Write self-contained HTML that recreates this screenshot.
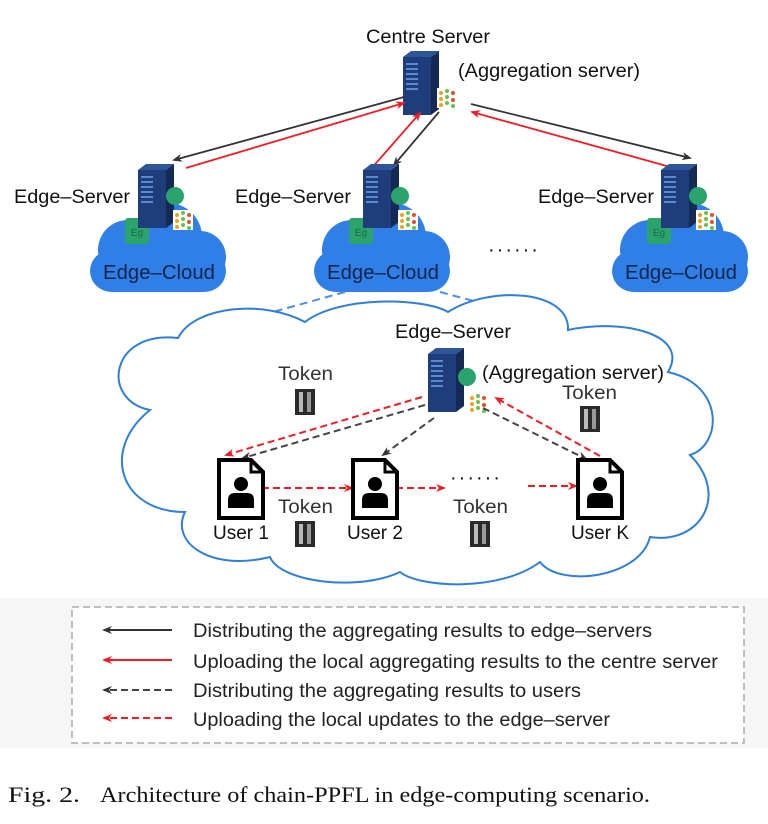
<!DOCTYPE html>
<html><head><meta charset="utf-8"><style>
html,body{margin:0;padding:0;background:#fff;}
svg{display:block;}
text{font-family:"Liberation Sans",sans-serif;}
</style></head><body>
<svg width="768" height="824" viewBox="0 0 768 824" xmlns="http://www.w3.org/2000/svg">
<defs>
<marker id="ak" markerWidth="10" markerHeight="10" refX="8" refY="5" orient="auto" markerUnits="userSpaceOnUse"><path d="M0,1 L10,5 L0,9 L3,5 Z" fill="#333"/></marker>
<marker id="ar" markerWidth="10" markerHeight="10" refX="8" refY="5" orient="auto" markerUnits="userSpaceOnUse"><path d="M0,1 L10,5 L0,9 L3,5 Z" fill="#f01c24"/></marker>
<g id="srv">
<rect x="0" y="0" width="28" height="58" fill="#1f3d7a"/>
<polygon points="0,0 8,-6 36,-6 28,0" fill="#2e5598"/>
<polygon points="28,0 36,-6 36,52 28,58" fill="#142a55"/>
<rect x="3" y="6" width="12" height="2" fill="#5a8ad0"/><rect x="3" y="11" width="12" height="2" fill="#5a8ad0"/><rect x="3" y="16" width="12" height="2" fill="#5a8ad0"/><rect x="3" y="21" width="12" height="2" fill="#5a8ad0"/><rect x="3" y="26" width="12" height="2" fill="#5a8ad0"/><rect x="3" y="31" width="12" height="2" fill="#5a8ad0"/>
</g>
<g id="net">
<rect x="0" y="0" width="20" height="20" fill="#fff"/>
<circle cx="4" cy="5" r="2" fill="#f0a020"/><circle cx="4" cy="11" r="2" fill="#f0a020"/><circle cx="4" cy="17" r="2" fill="#f0a020"/>
<circle cx="10" cy="3" r="2" fill="#6cc04a"/><circle cx="10" cy="9" r="2" fill="#6cc04a"/><circle cx="10" cy="15" r="2" fill="#6cc04a"/>
<circle cx="16" cy="5" r="2" fill="#e05030"/><circle cx="16" cy="12" r="2" fill="#e05030"/><circle cx="16" cy="18" r="2" fill="#6cc04a"/>
</g>
<g id="tok">
<rect x="0" y="0" width="20" height="26" fill="#2a2a2a"/>
<rect x="4" y="3" width="4" height="20" fill="#bbb"/><rect x="12" y="3" width="4" height="20" fill="#999"/>
</g>
<g id="user">
<path d="M0,0 H32 L44,12 V58 H0 Z" fill="#fff" stroke="#000" stroke-width="4"/>
<path d="M32,0 V12 H44" fill="none" stroke="#000" stroke-width="3"/>
<circle cx="22" cy="24" r="7" fill="#000"/>
<path d="M9,48 V40 Q9,33 16,33 H28 Q35,33 35,40 V48 Z" fill="#000"/>
</g>
<g id="bcloud">
<rect x="0" y="45" width="136" height="42" rx="22" fill="#2f7fe6"/>
<circle cx="38" cy="45" r="30" fill="#2f7fe6"/>
<circle cx="78" cy="32" r="34" fill="#2f7fe6"/>
<circle cx="110" cy="52" r="26" fill="#2f7fe6"/>
<rect x="35" y="13" width="24" height="26" rx="3" fill="#2aa36c"/>
<text x="47" y="31" font-size="10" fill="#1a6a44" text-anchor="middle">Eg</text>
<text x="13" y="74" font-size="20" fill="#12244a" textLength="112" lengthAdjust="spacingAndGlyphs">Edge–Cloud</text>
</g>
</defs>

<text x="366" y="43" font-size="19" fill="#111" textLength="124" lengthAdjust="spacingAndGlyphs">Centre Server</text>
<text x="458" y="77" font-size="19" fill="#111" textLength="182" lengthAdjust="spacingAndGlyphs">(Aggregation server)</text>
<use href="#srv" x="403" y="57"/>
<use href="#net" x="437" y="88"/>

<line x1="404" y1="97" x2="174" y2="160" stroke="#333" stroke-width="1.8" marker-end="url(#ak)"/>
<line x1="186" y1="168" x2="404" y2="103" stroke="#f01c24" stroke-width="1.8" marker-end="url(#ar)"/>
<line x1="370" y1="170" x2="420" y2="113" stroke="#f01c24" stroke-width="1.8" marker-end="url(#ar)"/>
<line x1="439" y1="112" x2="394" y2="165" stroke="#333" stroke-width="1.8" marker-end="url(#ak)"/>
<line x1="471" y1="104" x2="690" y2="158" stroke="#333" stroke-width="1.8" marker-end="url(#ak)"/>
<line x1="674" y1="168" x2="472" y2="112" stroke="#f01c24" stroke-width="1.8" marker-end="url(#ar)"/>

<g><use href="#bcloud" x="90" y="205"/><use href="#srv" x="138" y="170"/><circle cx="175" cy="196" r="9" fill="#2aa36c"/><use href="#net" x="173" y="210"/><text x="14" y="203" font-size="19" fill="#111" textLength="116" lengthAdjust="spacingAndGlyphs">Edge–Server</text></g>
<g><use href="#bcloud" x="314" y="205"/><use href="#srv" x="363" y="170"/><circle cx="400" cy="196" r="9" fill="#2aa36c"/><use href="#net" x="398" y="210"/><text x="235" y="203" font-size="19" fill="#111" textLength="116" lengthAdjust="spacingAndGlyphs">Edge–Server</text></g>
<g><use href="#bcloud" x="612" y="205"/><use href="#srv" x="661" y="170"/><circle cx="698" cy="196" r="9" fill="#2aa36c"/><use href="#net" x="696" y="210"/><text x="538" y="203" font-size="19" fill="#111" textLength="116" lengthAdjust="spacingAndGlyphs">Edge–Server</text></g>
<text x="488" y="256" font-size="20" fill="#111" letter-spacing="2">······</text>

<line x1="345" y1="292" x2="215" y2="328" stroke="#4a90e2" stroke-width="2" stroke-dasharray="8,5"/>
<line x1="440" y1="292" x2="500" y2="308" stroke="#4a90e2" stroke-width="2" stroke-dasharray="8,5"/>

<path d="M150,410 C100,400 110,330 178,338 C195,305 265,300 305,322 C340,295 425,298 448,312 C490,285 570,290 568,330 C625,318 690,335 668,372 C725,385 722,445 690,455 C730,495 700,545 650,537 C640,578 560,588 540,562 C500,592 420,588 400,572 C358,592 280,582 270,557 C210,572 170,542 185,512 C120,512 100,450 150,410 Z" fill="#fff" stroke="#2f7fd6" stroke-width="2"/>

<text x="395" y="338" font-size="19" fill="#111" textLength="116" lengthAdjust="spacingAndGlyphs">Edge–Server</text>
<use href="#srv" x="428" y="354"/>
<circle cx="467" cy="377" r="9" fill="#2aa36c"/>
<use href="#net" x="468" y="393"/>
<text x="482" y="379" font-size="19" fill="#111" textLength="182" lengthAdjust="spacingAndGlyphs">(Aggregation server)</text>

<text x="278" y="380" font-size="19" fill="#333" textLength="55" lengthAdjust="spacingAndGlyphs">Token</text>
<use href="#tok" x="295" y="389"/>
<text x="562" y="399" font-size="19" fill="#333" textLength="55" lengthAdjust="spacingAndGlyphs">Token</text>
<use href="#tok" x="580" y="406"/>
<text x="278" y="513" font-size="19" fill="#333" textLength="55" lengthAdjust="spacingAndGlyphs">Token</text>
<use href="#tok" x="295" y="521"/>
<text x="453" y="513" font-size="19" fill="#333" textLength="55" lengthAdjust="spacingAndGlyphs">Token</text>
<use href="#tok" x="470" y="521"/>

<line x1="422" y1="397" x2="226" y2="455" stroke="#f01c24" stroke-width="2" stroke-dasharray="7,4" marker-end="url(#ar)"/>
<line x1="425" y1="405" x2="243" y2="458" stroke="#444" stroke-width="2" stroke-dasharray="7,4" marker-end="url(#ak)"/>
<line x1="434" y1="418" x2="383" y2="455" stroke="#444" stroke-width="2" stroke-dasharray="7,4" marker-end="url(#ak)"/>
<line x1="483" y1="408" x2="586" y2="459" stroke="#444" stroke-width="2" stroke-dasharray="7,4" marker-end="url(#ak)"/>
<line x1="600" y1="456" x2="496" y2="398" stroke="#f01c24" stroke-width="2" stroke-dasharray="7,4" marker-end="url(#ar)"/>
<line x1="262" y1="488" x2="352" y2="488" stroke="#f01c24" stroke-width="2" stroke-dasharray="7,4" marker-end="url(#ar)"/>
<line x1="396" y1="488" x2="444" y2="488" stroke="#f01c24" stroke-width="2" stroke-dasharray="7,4" marker-end="url(#ar)"/>
<line x1="528" y1="486" x2="576" y2="486" stroke="#f01c24" stroke-width="2" stroke-dasharray="7,4" marker-end="url(#ar)"/>
<text x="450" y="484" font-size="20" fill="#111" letter-spacing="2">······</text>

<use href="#user" x="219" y="460"/>
<use href="#user" x="353" y="460"/>
<use href="#user" x="578" y="460"/>
<text x="241" y="539" font-size="19" fill="#111" text-anchor="middle">User 1</text>
<text x="375" y="539" font-size="19" fill="#111" text-anchor="middle">User 2</text>
<text x="600" y="539" font-size="19" fill="#111" text-anchor="middle">User K</text>

<rect x="0" y="598" width="768" height="150" fill="#f6f6f6"/>
<rect x="72" y="607" width="672" height="136" fill="#fff" stroke="#aaa" stroke-width="1.5" stroke-dasharray="7,4"/>
<line x1="172" y1="630" x2="104" y2="630" stroke="#333" stroke-width="2" marker-end="url(#ak)"/>
<line x1="172" y1="660" x2="104" y2="660" stroke="#f01c24" stroke-width="2" marker-end="url(#ar)"/>
<line x1="172" y1="690" x2="104" y2="690" stroke="#444" stroke-width="2" stroke-dasharray="7,4" marker-end="url(#ak)"/>
<line x1="172" y1="718" x2="104" y2="718" stroke="#f01c24" stroke-width="2" stroke-dasharray="7,4" marker-end="url(#ar)"/>
<text x="193" y="637" font-size="19.5" fill="#222" textLength="459" lengthAdjust="spacingAndGlyphs">Distributing the aggregating results to edge–servers</text>
<text x="193" y="668" font-size="19.5" fill="#222" textLength="525" lengthAdjust="spacingAndGlyphs">Uploading the local aggregating results to the centre server</text>
<text x="193" y="697" font-size="19.5" fill="#222" textLength="388" lengthAdjust="spacingAndGlyphs">Distributing the aggregating results to users</text>
<text x="193" y="726" font-size="19.5" fill="#222" textLength="417" lengthAdjust="spacingAndGlyphs">Uploading the local updates to the edge–server</text>

<text x="8" y="802" font-size="22" fill="#111" style="font-family:'Liberation Serif',serif" textLength="72" lengthAdjust="spacingAndGlyphs">Fig. 2.</text>
<text x="100" y="802" font-size="22" fill="#111" style="font-family:'Liberation Serif',serif" textLength="550" lengthAdjust="spacingAndGlyphs">Architecture of chain-PPFL in edge-computing scenario.</text>
</svg>
</body></html>
